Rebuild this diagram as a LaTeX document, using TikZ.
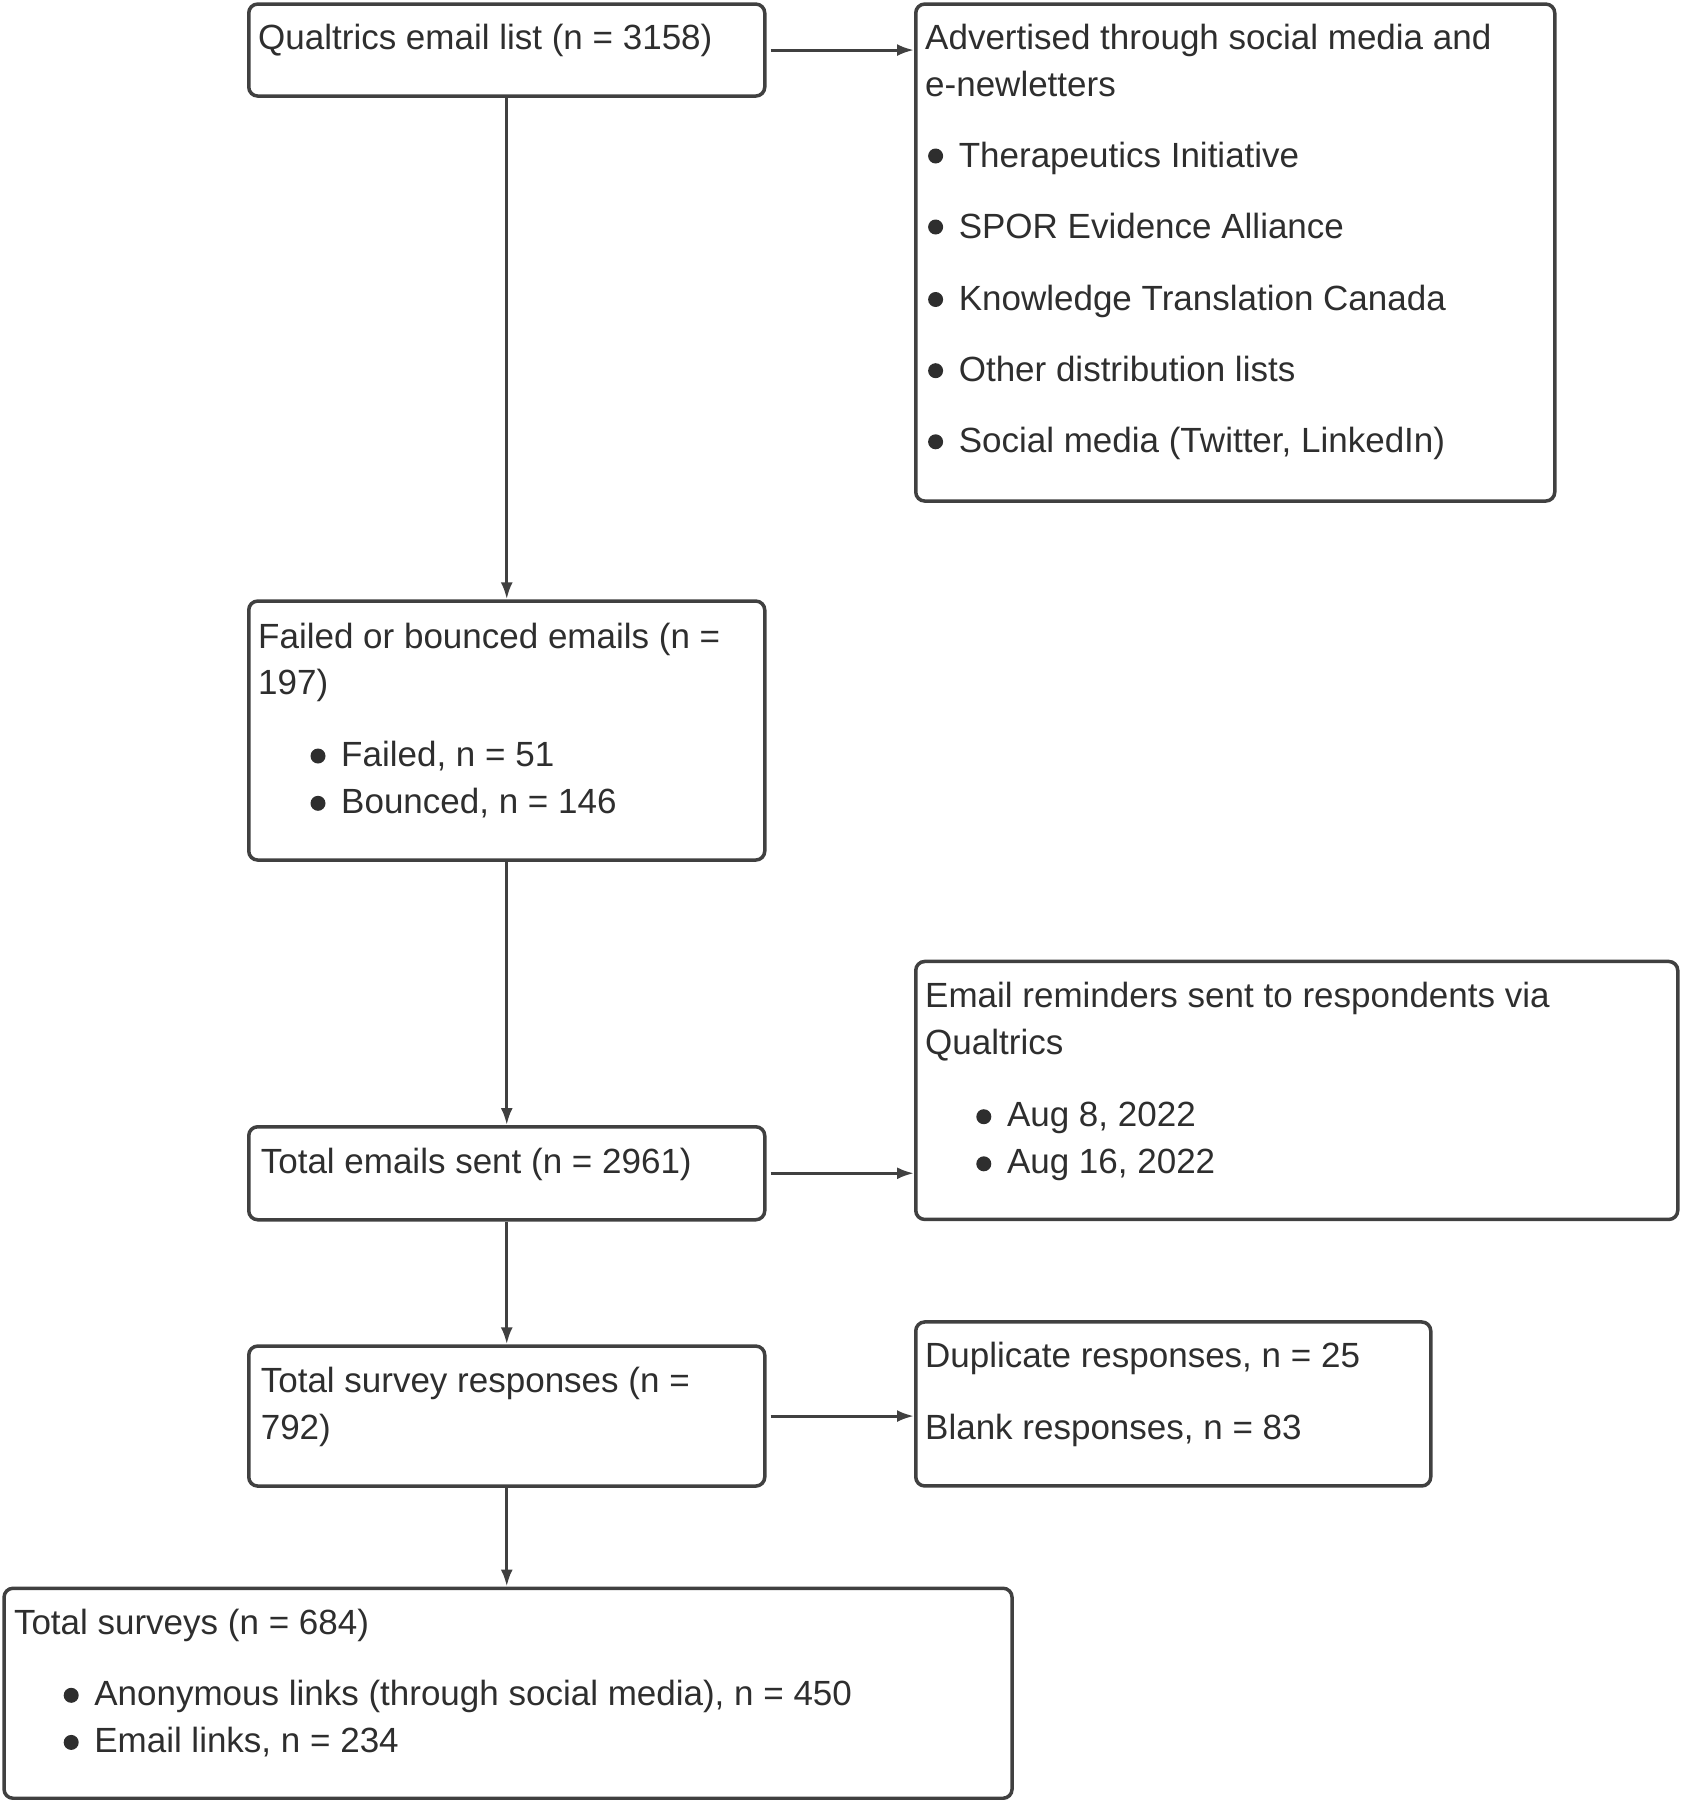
\documentclass[tikz,border=0pt]{standalone}
\usepackage{fontspec}
\setmainfont{Liberation Sans}
\usetikzlibrary{arrows.meta}
\definecolor{txtc}{HTML}{2E2E2E}
\definecolor{linec}{HTML}{404040}
\begin{document}
\begin{tikzpicture}[x=1pt,y=-1pt,
  box/.style={draw=linec, line width=3.5pt, rounded corners=9pt, inner sep=0pt, anchor=north west},
  txt/.style={anchor=base west, inner sep=0pt, text=txtc, font=\fontsize{35}{47}\selectfont},
  bul/.style={circle, fill=txtc, draw=none, inner sep=0pt, minimum size=15pt},
  arr/.style={-{Latex[length=17pt,width=12pt]}, line width=3pt, draw=linec}]
\useasboundingbox (0,0) rectangle (1683,1800);
% boxes
\node[box, minimum width=516pt, minimum height=92pt] (b1) at (247,2.3) {};
\node[box, minimum width=639pt, minimum height=497pt] (b2) at (914,2.3) {};
\node[box, minimum width=516pt, minimum height=259pt] (b3) at (247,599.3) {};
\node[box, minimum width=762pt, minimum height=258pt] (b4) at (914,959.7) {};
\node[box, minimum width=516pt, minimum height=93pt] (b5) at (247,1125) {};
\node[box, minimum width=516pt, minimum height=140pt] (b6) at (247,1344.3) {};
\node[box, minimum width=515pt, minimum height=164pt] (b7) at (914,1320.2) {};
\node[box, minimum width=1008pt, minimum height=210pt] (b8) at (2.3,1586.5) {};
% texts box 1
\node[txt] (t1) at (258,49) {Qualtrics email list (n = 3158)};
% box 2
\node[txt] (t2a) at (925,49) {Advertised through social media and};
\node[txt] (t2b) at (925,96) {e-newletters};
\node[bul] (d2a) at (935.6,156) {};
\node[txt] (t2c) at (958.6,167) {Therapeutics Initiative};
\node[bul] (d2b) at (935.6,227) {};
\node[txt] (t2d) at (958.6,238) {SPOR Evidence Alliance};
\node[bul] (d2c) at (935.6,299.5) {};
\node[txt] (t2e) at (958.6,310.5) {Knowledge Translation Canada};
\node[bul] (d2d) at (935.6,370.7) {};
\node[txt] (t2f) at (958.6,381.7) {Other distribution lists};
\node[bul] (d2e) at (935.6,441.8) {};
\node[txt] (t2g) at (958.6,452.8) {Social media (Twitter, LinkedIn)};
% box 3
\node[txt] (t3a) at (258,648) {Failed or bounced emails (n =};
\node[txt] (t3b) at (258,694) {197)};
\node[bul] (d3a) at (318,756) {};
\node[txt] (t3c) at (341,766) {Failed, n = 51};
\node[bul] (d3b) at (318,803.3) {};
\node[txt] (t3d) at (341,813.3) {Bounced, n = 146};
% box 4
\node[txt] (t4a) at (925,1007.3) {Email reminders sent to respondents via};
\node[txt] (t4b) at (925,1054.4) {Qualtrics};
\node[bul] (d4a) at (983.8,1116.7) {};
\node[txt] (t4c) at (1006.8,1126.7) {Aug 8, 2022};
\node[bul] (d4b) at (983.8,1163.8) {};
\node[txt] (t4d) at (1006.8,1173.8) {Aug 16, 2022};
% box 5
\node[txt] (t5) at (260.6,1173.8) {Total emails sent (n = 2961)};
% box 6
\node[txt] (t6a) at (260.6,1392) {Total survey responses (n =};
\node[txt] (t6b) at (260.6,1439) {792)};
% box 7
\node[txt] (t7a) at (925,1367.8) {Duplicate responses, n = 25};
\node[txt] (t7b) at (925,1439) {Blank responses, n = 83};
% box 8
\node[txt] (t8a) at (13.8,1634) {Total surveys (n = 684)};
\node[bul] (d8a) at (71.2,1695.3) {};
\node[txt] (t8b) at (94.1,1705.3) {Anonymous links (through social media), n = 450};
\node[bul] (d8b) at (71.2,1742.4) {};
\node[txt] (t8c) at (94.1,1752.4) {Email links, n = 234};
% connectors
\draw[arr] ([xshift=4pt]b1.east) -- (b1.east -| b2.west);
\draw[arr] ([xshift=4pt]b5.east) -- (b5.east -| b4.west);
\draw[arr] ([xshift=4pt]b6.east) -- (b6.east -| b7.west);
\draw[arr] (b1.south) -- (b3.north);
\draw[arr] (b3.south) -- (b5.north);
\draw[arr] (b5.south) -- (b6.north);
\draw[arr] (b6.south) -- (b6.south |- b8.north);
\end{tikzpicture}
\end{document}
